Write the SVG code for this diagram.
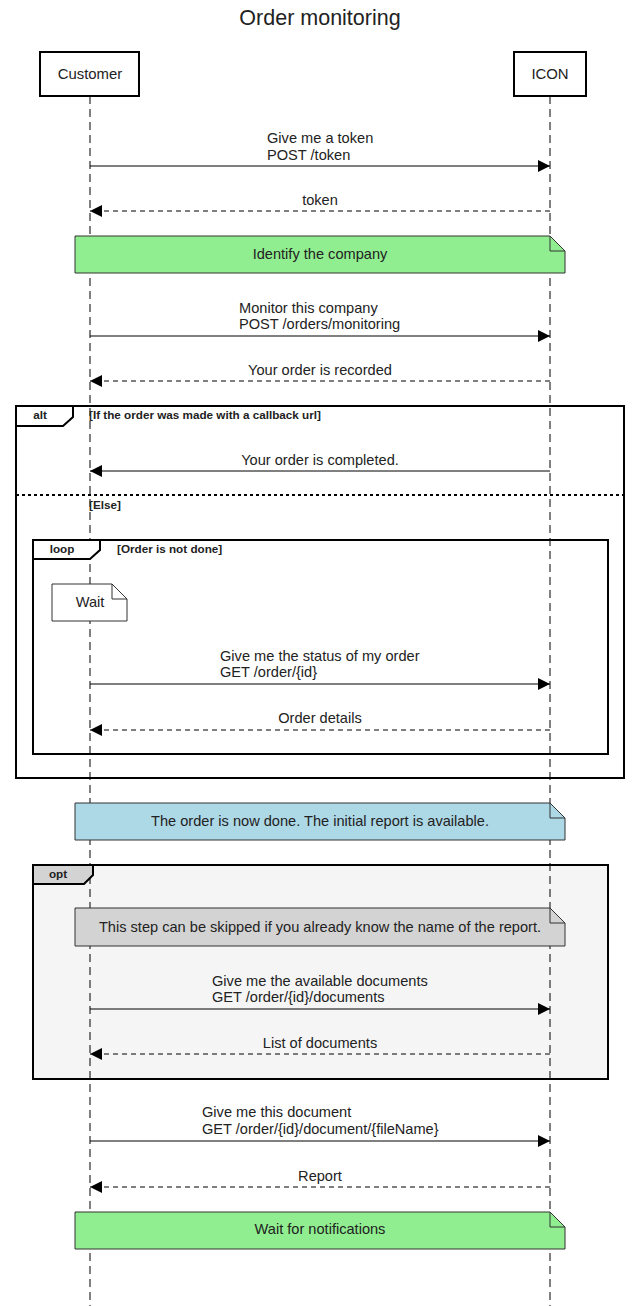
<svg xmlns="http://www.w3.org/2000/svg" width="640" height="1306" viewBox="0 0 640 1306">
<defs>
<marker id="ah" viewBox="0 0 12 12" refX="12" refY="6" markerWidth="12" markerHeight="12" markerUnits="userSpaceOnUse" orient="auto">
<path d="M0,0 L12,6 L0,12 Z" fill="#000"/>
</marker>
</defs>
<style>
text{font-family:"Liberation Sans",Arial,sans-serif;fill:#222}
.t{font-size:21.5px;text-anchor:middle}
.p{font-size:14.9px;text-anchor:middle}
.m{font-size:14.6px}
.c{text-anchor:middle}
.life{stroke:#000;stroke-width:1;stroke-dasharray:8 5;fill:none}
.req{stroke:#000;stroke-width:1;fill:none;marker-end:url(#ah)}
.ret{stroke:#000;stroke-width:1;fill:none;stroke-dasharray:5 4;marker-end:url(#ah)}
.box{fill:#fff;stroke:#000;stroke-width:2}
.frame{fill:none;stroke:#000;stroke-width:2}
.tag{fill:#fff;stroke:#000;stroke-width:2}
.tl{font-size:11.7px;font-weight:bold;text-anchor:middle}
.cond{font-size:11.7px;font-weight:bold}
.note{stroke:#333;stroke-width:1}
.fold{fill:none;stroke:#333;stroke-width:1}
</style>
<rect width="640" height="1306" fill="#fff"/>
<text class="t" x="320" y="25">Order monitoring</text>

<g id="opt-bg"><rect x="33" y="865" width="575" height="214" fill="#f5f5f5"/></g>

<g id="lifelines">
<line class="life" x1="90" y1="96" x2="90" y2="1306"/>
<line class="life" x1="550" y1="96" x2="550" y2="1306"/>
</g>

<g id="participant-customer"><rect class="box" x="40" y="52" width="99" height="44"/><text class="p" x="90" y="79">Customer</text></g>
<g id="participant-icon"><rect class="box" x="514" y="52" width="72" height="44"/><text class="p" x="550" y="79">ICON</text></g>

<g id="frame-alt">
<rect class="frame" x="16" y="406" width="608" height="372"/>
<path class="tag" d="M16,406 H73 V417 L63,426 H16 Z"/>
<text class="tl" x="40" y="419">alt</text>
<text class="cond" x="89" y="419">[If the order was made with a callback url]</text>
<line x1="16" y1="495" x2="624" y2="495" stroke="#000" stroke-width="2" stroke-dasharray="3 3"/>
<text class="cond" x="89" y="509">[Else]</text>
</g>

<g id="frame-loop">
<rect class="frame" x="33" y="540" width="575" height="214"/>
<path class="tag" d="M33,540 H100 V550 L90,559 H33 Z"/>
<text class="tl" x="62" y="553">loop</text>
<text class="cond" x="117" y="553">[Order is not done]</text>
</g>

<g id="frame-opt">
<rect class="frame" x="33" y="865" width="575" height="214"/>
<path d="M33,865 H93 V875 L84,884 H33 Z" fill="#d3d3d3" stroke="#000" stroke-width="2"/>
<text class="tl" x="58" y="878">opt</text>
</g>

<g id="note-identify">
<path class="note" fill="#90ee90" d="M75,236 H550 L565,251 V273 H75 Z"/>
<path class="fold" d="M550,236 V251 H565"/>
<text class="m c" x="320" y="259">Identify the company</text>
</g>

<g id="note-wait">
<path class="note" fill="#fff" d="M52,584 H112 L127,599 V621 H52 Z"/>
<path class="fold" d="M112,584 V599 H127"/>
<text class="m c" x="90" y="607">Wait</text>
</g>

<g id="note-done">
<path class="note" fill="#add8e6" d="M75,803 H550 L565,818 V840 H75 Z"/>
<path class="fold" d="M550,803 V818 H565"/>
<text class="m c" x="320" y="826">The order is now done. The initial report is available.</text>
</g>

<g id="note-skip">
<path class="note" fill="#d3d3d3" d="M75,908 H550 L565,923 V946 H75 Z"/>
<path class="fold" d="M550,908 V923 H565"/>
<text class="m c" x="320" y="932">This step can be skipped if you already know the name of the report.</text>
</g>

<g id="note-notify">
<path class="note" fill="#90ee90" d="M75,1212 H550 L565,1227 V1249 H75 Z"/>
<path class="fold" d="M550,1212 V1227 H565"/>
<text class="m c" x="320" y="1234">Wait for notifications</text>
</g>

<g id="connectors">
<line class="req" x1="90" y1="166" x2="550" y2="166"/>
<text class="m" x="267" y="143">Give me a token</text>
<text class="m" x="267" y="160">POST /token</text>

<line class="ret" x1="550" y1="211" x2="90" y2="211"/>
<text class="m c" x="320" y="205">token</text>

<line class="req" x1="90" y1="336" x2="550" y2="336"/>
<text class="m" x="239" y="313">Monitor this company</text>
<text class="m" x="239" y="329">POST /orders/monitoring</text>

<line class="ret" x1="550" y1="381" x2="90" y2="381"/>
<text class="m c" x="320" y="375">Your order is recorded</text>

<line class="req" x1="550" y1="471" x2="90" y2="471"/>
<text class="m c" x="320" y="465">Your order is completed.</text>

<line class="req" x1="90" y1="684" x2="550" y2="684"/>
<text class="m" x="220" y="661">Give me the status of my order</text>
<text class="m" x="220" y="677">GET /order/{id}</text>

<line class="ret" x1="550" y1="730" x2="90" y2="730"/>
<text class="m c" x="320" y="723">Order details</text>

<line class="req" x1="90" y1="1009" x2="550" y2="1009"/>
<text class="m" x="212" y="986">Give me the available documents</text>
<text class="m" x="212" y="1002">GET /order/{id}/documents</text>

<line class="ret" x1="550" y1="1054" x2="90" y2="1054"/>
<text class="m c" x="320" y="1048">List of documents</text>

<line class="req" x1="90" y1="1141" x2="550" y2="1141"/>
<text class="m" x="202" y="1117">Give me this document</text>
<text class="m" x="202" y="1134">GET /order/{id}/document/{fileName}</text>

<line class="ret" x1="550" y1="1187" x2="90" y2="1187"/>
<text class="m c" x="320" y="1181">Report</text>
</g>
</svg>
